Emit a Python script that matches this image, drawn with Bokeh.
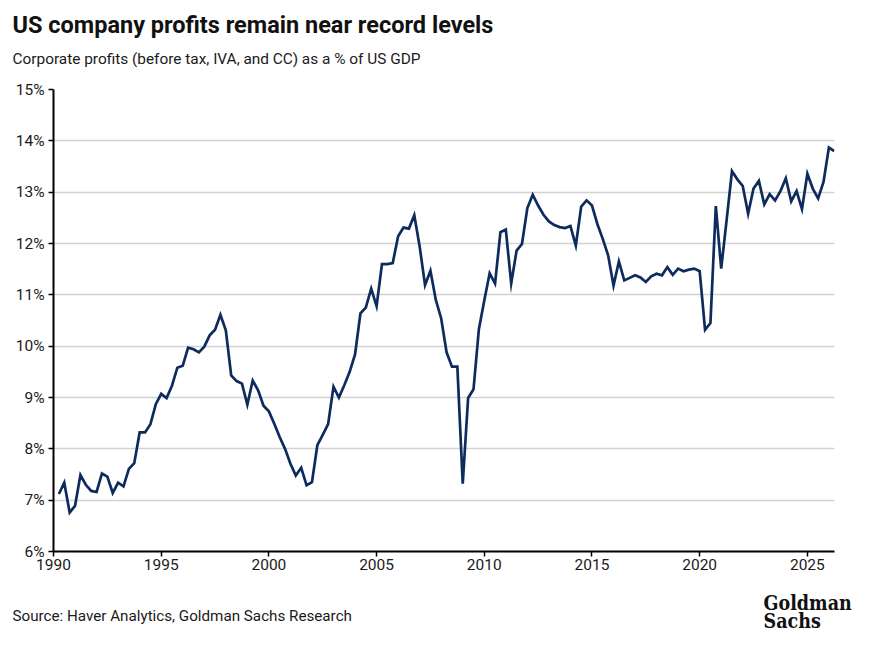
import pandas as pd
from bokeh.plotting import figure
from bokeh.layouts import column
from bokeh.models import ColumnDataSource, FixedTicker, Label, Range1d
from bokeh.embed import file_html
from bokeh.resources import INLINE

# Corporate profits (before tax, IVA and CC) as a % of US GDP, quarterly from 1990Q1
profit_share = [
    7.12, 7.34, 6.76, 6.89, 7.49, 7.30, 7.18, 7.16, 7.52, 7.46, 7.14, 7.34,
    7.27, 7.61, 7.72, 8.32, 8.32, 8.48, 8.87, 9.07, 8.99, 9.23, 9.58, 9.62,
    9.97, 9.94, 9.88, 9.99, 10.21, 10.32, 10.61, 10.31, 9.43, 9.32, 9.27, 8.86,
    9.33, 9.14, 8.84, 8.73, 8.49, 8.23, 8.00, 7.71, 7.48, 7.63, 7.29, 7.35,
    8.07, 8.27, 8.48, 9.21, 9.00, 9.24, 9.50, 9.84, 10.64, 10.75, 11.12, 10.78,
    11.60, 11.60, 11.62, 12.14, 12.31, 12.29, 12.55, 11.94, 11.19, 11.47, 10.90, 10.54,
    9.88, 9.60, 9.60, 7.32, 8.99, 9.16, 10.33, 10.89, 11.42, 11.22, 12.22, 12.27,
    11.22, 11.86, 11.99, 12.69, 12.95, 12.74, 12.56, 12.43, 12.36, 12.32, 12.30, 12.34,
    11.96, 12.72, 12.84, 12.74, 12.38, 12.09, 11.77, 11.18, 11.65, 11.28, 11.33, 11.38,
    11.34, 11.25, 11.36, 11.41, 11.38, 11.54, 11.39, 11.51, 11.46, 11.49, 11.51, 11.46,
    10.32, 10.45, 12.73, 11.51, 12.45, 13.41, 13.25, 13.12, 12.58, 13.07, 13.22, 12.76,
    12.96, 12.84, 13.02, 13.27, 12.82, 13.02, 12.67, 13.36, 13.07, 12.88, 13.20, 13.87,
    13.80,
]
first_quarter = "1990Q1"
x_ticks = [1990, 1995, 2000, 2005, 2010, 2015, 2020, 2025]
y_ticks = [6, 7, 8, 9, 10, 11, 12, 13, 14, 15]

quarters = pd.period_range(first_quarter, periods=len(profit_share), freq="Q")
# each quarter is placed at its end, in fractional years
x_years = [q.year + q.quarter * 0.25 for q in quarters]
source = ColumnDataSource(data=dict(x=x_years, y=profit_share))

W, H = 871, 649
HEAD_H = 74          # title strip
FOOT_TOP = 581       # source / logo strip starts here
LEFT, RIGHT, TOP, BOTTOM = 53, 834, 89, 551
X0, X1 = 1990.0, 2026.26
Y0, Y1 = 6.0, 15.0

FONT = "Roboto"
INK = "#1a1a1a"


def text_strip(height):
    """A bare canvas whose data units are pixels, origin top-left."""
    f = figure(width=W, height=height, x_range=Range1d(0, W),
               y_range=Range1d(height, 0), output_backend="svg",
               toolbar_location=None, x_axis_location=None,
               y_axis_location=None, min_border=0)
    f.outline_line_color = None
    f.grid.visible = False
    f.frame_align = False   # keep the frame over the whole strip
    return f


def add_text(fig, px, py, text, size, style="normal", font=FONT, color=INK):
    fig.add_layout(Label(
        x=px, y=py, text=text, text_font=font, text_font_size=size,
        text_font_style=style, text_color=color,
        text_baseline="middle", text_align="left",
    ))


# title and subtitle
head = text_strip(HEAD_H)
add_text(head, 12, 24, "US company profits remain near record levels", "23.5px", "bold", color="#111111")
add_text(head, 12, 58, "Corporate profits (before tax, IVA, and CC) as a % of US GDP", "15.4px")

# main chart
p = figure(
    width=W, height=FOOT_TOP - HEAD_H,
    x_range=Range1d(X0, X1), y_range=Range1d(Y0, Y1),
    output_backend="svg", toolbar_location=None,
    min_border_left=LEFT, min_border_right=W - RIGHT,
    min_border_top=TOP - HEAD_H, min_border_bottom=FOOT_TOP - BOTTOM,
)
p.outline_line_color = None

p.line("x", "y", source=source, line_color="#0d2b5c", line_width=2.7,
       line_join="miter")

p.xaxis.ticker = FixedTicker(ticks=x_ticks)
p.yaxis.ticker = FixedTicker(ticks=y_ticks)
p.yaxis.major_label_overrides = {t: f"{t}%" for t in y_ticks}
for ax in (p.xaxis[0], p.yaxis[0]):
    ax.axis_line_color = "black"
    ax.axis_line_width = 2
    ax.major_tick_line_color = "black"
    ax.major_tick_line_width = 1.5
    ax.major_tick_in = 0
    ax.major_tick_out = 5
    ax.minor_tick_line_color = None
    ax.major_label_text_font = FONT
    ax.major_label_text_font_size = "15.5px"
    ax.major_label_text_color = INK
p.xaxis.major_label_standoff = 2
p.yaxis.major_label_standoff = 4

p.xgrid.grid_line_color = None
p.ygrid.grid_line_color = "#d2d2d2"
p.ygrid.grid_line_width = 1.5

# source note and logo
foot = text_strip(H - FOOT_TOP)
add_text(foot, 12, 615 - FOOT_TOP, "Source: Haver Analytics, Goldman Sachs Research", "15.2px")
add_text(foot, 763, 603 - FOOT_TOP, "Goldman", "19.5px", "bold", font="DejaVu Serif Condensed", color="#111111")
add_text(foot, 763, 621 - FOOT_TOP, "Sachs", "19.5px", "bold", font="DejaVu Serif Condensed", color="#111111")

layout = column(head, p, foot, spacing=0)
open("out.html", "w").write(file_html(layout, INLINE))
